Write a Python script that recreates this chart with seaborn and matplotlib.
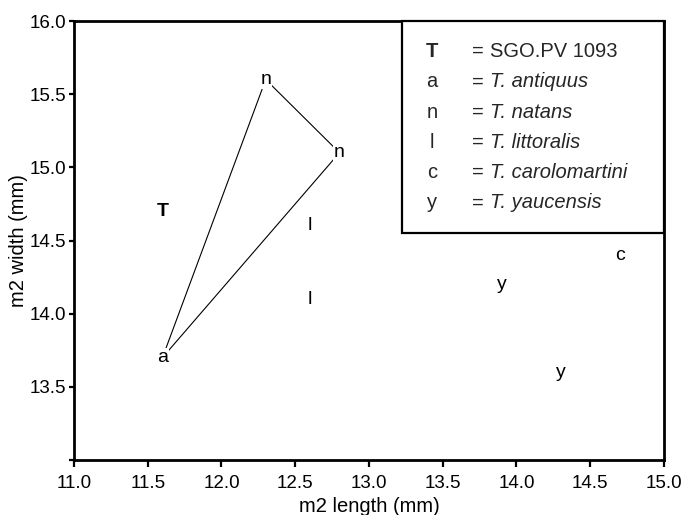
"""
m2 length vs width scatter with letter symbols (Thalassocnus style plot).
"""

import matplotlib.pyplot as plt
import seaborn as sns
import pandas as pd
from matplotlib.patches import Rectangle

plt.switch_backend('Agg')

# specimen measurements (mm)
symbols = ['T', 'a', 'n', 'n', 'l', 'l', 'y', 'y', 'c']
lengths = [11.6, 11.6, 12.3, 12.8, 12.6, 12.6, 13.9, 14.3, 14.7]
widths = [14.7, 13.7, 15.6, 15.1, 14.6, 14.1, 14.2, 13.6, 14.4]

# key entries
key_symbols = ['T', 'a', 'n', 'l', 'c', 'y']
key_names = ['SGO.PV 1093', 'T. antiquus', 'T. natans', 'T. littoralis',
             'T. carolomartini', 'T. yaucensis']

x_ticks = [11.0, 11.5, 12.0, 12.5, 13.0, 13.5, 14.0, 14.5, 15.0]
y_ticks = [13.0, 13.5, 14.0, 14.5, 15.0, 15.5, 16.0]

sns.set_theme(style='ticks')
plt.rcParams['font.family'] = ['Liberation Sans', 'DejaVu Sans']

df = pd.DataFrame({'symbol': symbols, 'length': lengths, 'width': widths})

fig = plt.figure(figsize=(6.82, 5.15), dpi=100)
ax = fig.add_axes([0.1085, 0.1068, 0.865, 0.8524])

# hull joining the T. antiquus and T. natans specimens
hull = df[df['symbol'].isin(['a', 'n'])]
hull = pd.concat([hull, hull.iloc[[0]]], ignore_index=True)
sns.lineplot(data=hull, x='length', y='width', sort=False, estimator=None,
             color='black', linewidth=0.8, ax=ax, zorder=1)

for _, row in df.iterrows():
    ax.text(row['length'], row['width'], row['symbol'], ha='center', va='center',
            fontsize=14, fontweight='bold' if row['symbol'] == 'T' else 'normal',
            color='black', zorder=3,
            bbox=dict(facecolor='white', edgecolor='none', pad=0.6))

ax.set_xlim(11.0, 15.0)
ax.set_ylim(13.0, 16.0)
ax.set_xticks(x_ticks)
ax.set_xticklabels([f'{t:.1f}' for t in x_ticks])
ax.set_yticks(y_ticks)
ax.set_yticklabels([''] + [f'{t:.1f}' for t in y_ticks[1:]])
ax.tick_params(direction='out', width=1.6, labelsize=13.5, colors='black')
ax.tick_params(axis='x', length=5, pad=5.5)
ax.tick_params(axis='y', length=3.8, pad=2)
for side in ['left', 'right', 'top', 'bottom']:
    ax.spines[side].set_visible(True)
    ax.spines[side].set_linewidth(2.0)
    ax.spines[side].set_color('black')

ax.set_xlabel('m2 length (mm)', fontsize=14.5, labelpad=4, color='black')
ax.set_ylabel('m2 width (mm)', fontsize=14.5, labelpad=1, color='black')

# key box in the upper right corner
ax.add_patch(Rectangle((0.556, 0.517), 0.444, 0.483, transform=ax.transAxes,
                       facecolor='white', edgecolor='black', linewidth=1.6,
                       zorder=4, clip_on=False))
row_y = 0.918
for sym, name in zip(key_symbols, key_names):
    ax.text(0.607, row_y, sym, transform=ax.transAxes, ha='center', va='baseline',
            fontsize=14.5, fontweight='bold' if sym == 'T' else 'normal', zorder=5)
    ax.text(0.675, row_y, '=', transform=ax.transAxes, ha='left', va='baseline',
            fontsize=14.5, zorder=5)
    ax.text(0.705, row_y, name, transform=ax.transAxes, ha='left', va='baseline',
            fontsize=14.5, fontstyle='normal' if sym == 'T' else 'italic', zorder=5)
    row_y -= 0.069

fig.savefig('out.png', dpi=100)
plt.close(fig)
